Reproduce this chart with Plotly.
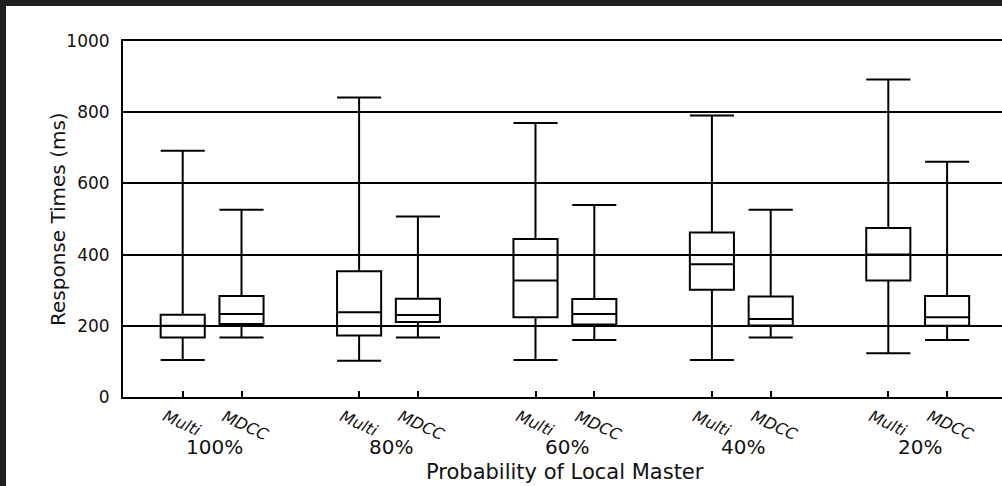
import plotly.graph_objects as go

# ---------------- data ----------------
groups = ["100%", "80%", "60%", "40%", "20%"]
systems = ["Multi", "MDCC"]

multi_low = [104, 102, 104, 104, 123]
multi_q1 = [167, 173, 224, 301, 327]
multi_med = [200, 238, 327, 373, 400]
multi_q3 = [231, 353, 444, 462, 475]
multi_high = [692, 841, 770, 791, 892]

mdcc_low = [167, 167, 160, 167, 160]
mdcc_q1 = [205, 211, 204, 201, 200]
mdcc_med = [233, 230, 233, 219, 224]
mdcc_q3 = [284, 276, 275, 282, 284]
mdcc_high = [526, 507, 539, 526, 661]

y_ticks = [0, 200, 400, 600, 800, 1000]
x_title = "Probability of Local Master"
y_title = "Response Times (ms)"

# ---------------- layout geometry ----------------
W, H = 1002, 486
ML, MR, MT, MB = 123, 0, 41, 89
PW, PH = W - ML - MR, H - MT - MB

def px_x(px):
    return (px - ML) / PW

def px_y(py):
    return (H - MB - py) / PH

multi_pos = [3 * i for i in range(len(groups))]
mdcc_pos = [3 * i + 1 for i in range(len(groups))]
tick_pos = sorted(multi_pos + mdcc_pos)

FONT = "DejaVu Sans"
BOXW = 0.75

fig = go.Figure()
fig.add_trace(go.Box(
    x=multi_pos, q1=multi_q1, median=multi_med, q3=multi_q3,
    lowerfence=multi_low, upperfence=multi_high,
    width=BOXW, whiskerwidth=1, boxpoints=False,
    line=dict(color="black", width=2), fillcolor="rgba(0,0,0,0)",
    name="Multi", showlegend=False,
))
fig.add_trace(go.Box(
    x=mdcc_pos, q1=mdcc_q1, median=mdcc_med, q3=mdcc_q3,
    lowerfence=mdcc_low, upperfence=mdcc_high,
    width=BOXW, whiskerwidth=1, boxpoints=False,
    line=dict(color="black", width=2), fillcolor="rgba(0,0,0,0)",
    name="MDCC", showlegend=False,
))

annotations = []
# system labels (rotated, italic)
for i in range(len(groups)):
    for pos, lab in ((multi_pos[i], systems[0]), (mdcc_pos[i], systems[1])):
        annotations.append(dict(
            x=pos, xref="x", y=px_y(404), yref="paper",
            text="<i>" + lab + "</i>", showarrow=False, textangle=25,
            xanchor="left", yanchor="top", xshift=-25,
            font=dict(family=FONT, size=16, color="#111"),
        ))
    annotations.append(dict(
        x=(multi_pos[i] + mdcc_pos[i]) / 2, xref="x", y=px_y(446.5), yref="paper",
        text=groups[i], showarrow=False, xanchor="center", yanchor="middle",
        xshift=2, font=dict(family=FONT, size=20, color="#111"),
    ))
annotations.append(dict(
    x=px_x(565), xref="paper", y=px_y(471.5), yref="paper", text=x_title,
    showarrow=False, xanchor="center", yanchor="middle",
    font=dict(family=FONT, size=21, color="#111"),
))
annotations.append(dict(
    x=px_x(58), xref="paper", y=px_y(219), yref="paper", text=y_title,
    showarrow=False, xanchor="center", yanchor="middle", textangle=-90,
    font=dict(family=FONT, size=20, color="#111"),
))

shapes = [
    dict(type="rect", xref="paper", yref="paper", x0=px_x(0), x1=px_x(W),
         y0=px_y(6), y1=px_y(0), fillcolor="#1f1f1f", line=dict(width=0), layer="above"),
    dict(type="rect", xref="paper", yref="paper", x0=px_x(0), x1=px_x(6),
         y0=px_y(H), y1=px_y(0), fillcolor="#1f1f1f", line=dict(width=0), layer="above"),
]

unit = (888.3 - 182.7) / 12.0
x0 = (ML - 182.7) / unit
x1 = (W - 182.7) / unit

fig.update_layout(
    width=W, height=H, margin=dict(l=ML, r=MR, t=MT, b=MB, pad=0),
    paper_bgcolor="white", plot_bgcolor="white", boxmode="overlay",
    annotations=annotations, shapes=shapes, showlegend=False,
    xaxis=dict(range=[x0, x1], showgrid=False, zeroline=False, showline=True,
               linecolor="black", linewidth=2, mirror=True,
               tickvals=tick_pos, ticks="inside", ticklen=6, tickwidth=2,
               tickcolor="black", showticklabels=False),
    yaxis=dict(range=[0, 1000], tickvals=y_ticks, showgrid=True, gridcolor="black",
               gridwidth=2, zeroline=False, showline=True, linecolor="black",
               linewidth=2, ticks="", ticklabelstandoff=8,
               tickfont=dict(family=FONT, size=17, color="#111")),
)

fig.write_html("out.html")
